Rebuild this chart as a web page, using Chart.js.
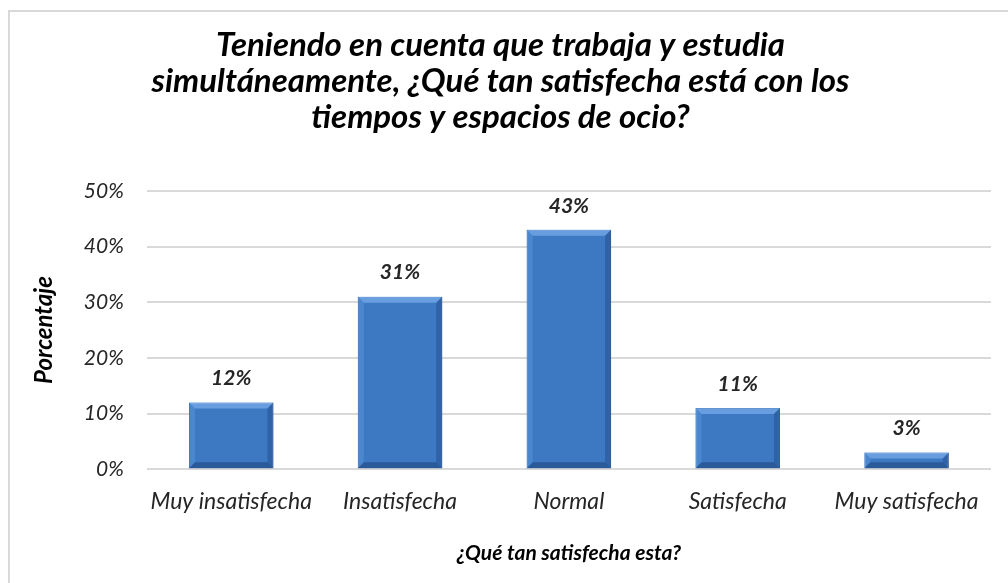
<!DOCTYPE html>
<html>
<head>
<meta charset="utf-8">
<script src="https://cdn.jsdelivr.net/npm/chart.js@4.4.0/dist/chart.umd.min.js"></script>
<style>
  html, body { margin: 0; padding: 0; background: #fff; }
  #wrap { position: relative; width: 1008px; height: 583px; overflow: hidden; }
  #frame { position: absolute; left: 8px; top: 10px; width: 1100px; height: 700px;
           border: 2px solid #d9d9d9; box-sizing: border-box; }
  canvas { position: absolute; left: 0; top: 0; }
</style>
</head>
<body>
<div id="wrap">
  <div id="frame"></div>
  <canvas id="chart" width="1008" height="583"></canvas>
</div>
<script>
  var categories = ['Muy insatisfecha', 'Insatisfecha', 'Normal', 'Satisfecha', 'Muy satisfecha'];
  var percentages = [12, 31, 43, 11, 3];
  var yMax = 50;
  var yStep = 10;
  var titleLines = [
    'Teniendo en cuenta que trabaja y estudia',
    'simultáneamente, ¿Qué tan satisfecha está con los',
    'tiempos y espacios de ocio?'
  ];
  var xTitle = '¿Qué tan satisfecha esta?';
  var yTitle = 'Porcentaje';

  var fontFamily = 'Lato, "Open Sans", sans-serif';

  // bevel on each bar, like the office 3d style
  var bevelPlugin = {
    id: 'bevel',
    afterDatasetsDraw: function(chart) {
      var ctx = chart.ctx;
      var meta = chart.getDatasetMeta(0);
      meta.data.forEach(function(bar) {
        var l = bar.x - bar.width / 2, r = bar.x + bar.width / 2;
        var t = bar.y, b = bar.base;
        var d = Math.min(6, (b - t) / 2);
        ctx.save();
        // top
        ctx.fillStyle = 'rgba(140,190,245,0.55)';
        ctx.beginPath();
        ctx.moveTo(l, t); ctx.lineTo(r, t); ctx.lineTo(r - d, t + d); ctx.lineTo(l + d, t + d);
        ctx.closePath(); ctx.fill();
        // left
        ctx.fillStyle = 'rgba(90,150,220,0.5)';
        ctx.beginPath();
        ctx.moveTo(l, t); ctx.lineTo(l + d, t + d); ctx.lineTo(l + d, b - d); ctx.lineTo(l, b);
        ctx.closePath(); ctx.fill();
        // right
        ctx.fillStyle = 'rgba(30,70,130,0.45)';
        ctx.beginPath();
        ctx.moveTo(r, t); ctx.lineTo(r - d, t + d); ctx.lineTo(r - d, b - d); ctx.lineTo(r, b);
        ctx.closePath(); ctx.fill();
        // bottom
        ctx.fillStyle = 'rgba(25,60,115,0.5)';
        ctx.beginPath();
        ctx.moveTo(l, b); ctx.lineTo(l + d, b - d); ctx.lineTo(r - d, b - d); ctx.lineTo(r, b);
        ctx.closePath(); ctx.fill();
        ctx.restore();
      });
    }
  };

  var valueLabels = {
    id: 'valueLabels',
    afterDatasetsDraw: function(chart) {
      var ctx = chart.ctx;
      var meta = chart.getDatasetMeta(0);
      ctx.save();
      ctx.font = 'italic bold 21px ' + fontFamily;
      ctx.fillStyle = '#262626';
      ctx.textAlign = 'center';
      ctx.textBaseline = 'middle';
      meta.data.forEach(function(bar, i) {
        ctx.fillText(percentages[i] + '%', bar.x, bar.y - 24);
      });
      ctx.restore();
    }
  };

  var ctxBars = document.getElementById('chart').getContext('2d');
  var satisfChart = new Chart(ctxBars, {
    type: 'bar',
    data: {
      labels: categories,
      datasets: [{
        data: percentages,
        backgroundColor: '#3d79c3',
        borderColor: '#2d5f9f',
        borderWidth: 1,
        categoryPercentage: 1,
        barPercentage: 0.5
      }]
    },
    options: {
      responsive: false,
      animation: false,
      layout: { padding: { left: 10, right: 17, top: 12, bottom: 17 } },
      plugins: {
        legend: { display: false },
        tooltip: { enabled: false },
        title: {
          display: true,
          text: titleLines,
          color: '#000',
          font: { family: fontFamily, size: 33, style: 'italic', weight: 'bold', lineHeight: 1.1 },
          padding: { top: 15, bottom: 55 }
        }
      },
      scales: {
        x: {
          grid: { display: false, drawTicks: false },
          border: { display: false },
          ticks: { color: '#262626', padding: 19, maxRotation: 0, font: { family: fontFamily, size: 23, style: 'italic' } },
          title: {
            display: true,
            text: xTitle,
            color: '#000',
            font: { family: fontFamily, size: 21, style: 'italic', weight: 'bold' },
            padding: { top: 6, bottom: 0 }
          }
        },
        y: {
          min: 0,
          max: yMax,
          grid: { color: '#d9d9d9', lineWidth: 2, drawTicks: false },
          border: { display: false },
          ticks: {
            stepSize: yStep,
            color: '#262626',
            padding: 23,
            font: { family: fontFamily, size: 21, style: 'italic' },
            callback: function(v) { return v + '%'; }
          },
          title: {
            display: true,
            text: yTitle,
            color: '#000',
            font: { family: fontFamily, size: 24, style: 'italic', weight: 'bold' },
            padding: { top: 20, bottom: 2 }
          }
        }
      }
    },
    plugins: [bevelPlugin, valueLabels]
  });
</script>
</body>
</html>
